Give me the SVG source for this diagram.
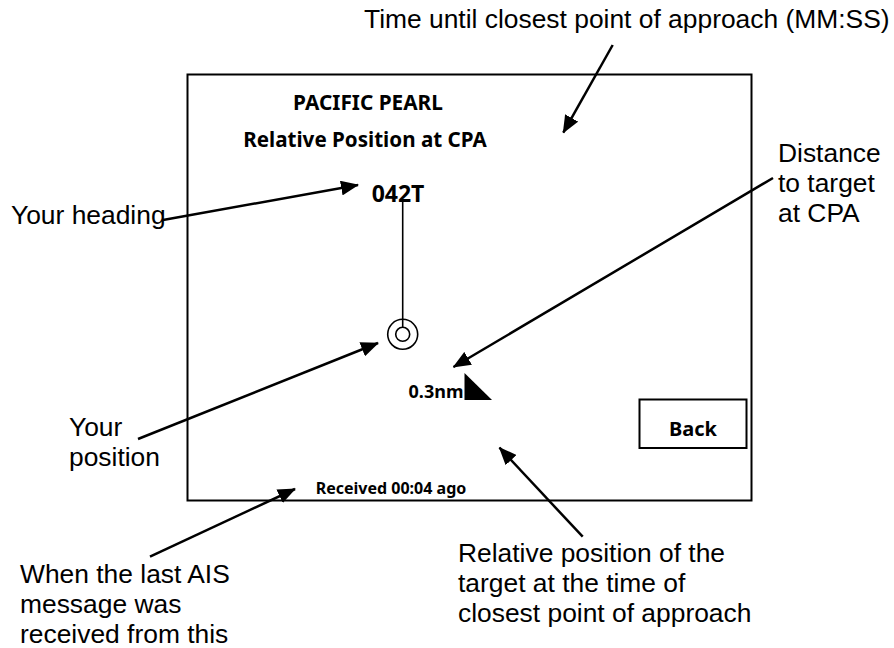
<svg xmlns="http://www.w3.org/2000/svg" width="894" height="648" viewBox="0 0 894 648">
<style>
.lbl{font-family:"Liberation Sans",Arial,sans-serif;font-size:26.4px;fill:#000}
.scr{font-family:"Noto Sans","Open Sans",sans-serif;font-weight:bold;fill:#000}
.arr{stroke:#000;stroke-width:2.5;fill:none;marker-end:url(#ah)}
.thin{stroke:#000;stroke-width:1.6;fill:none}
</style>
<defs>
<marker id="ah" markerUnits="userSpaceOnUse" markerWidth="18" markerHeight="15" refX="17" refY="7.5" orient="auto">
<path d="M0,0 L18,7.5 L0,15 z" fill="#000"/>
</marker>
</defs>
<rect width="894" height="648" fill="#fff"/>
<g id="screen">
<rect x="187.5" y="74.5" width="564" height="426" fill="none" stroke="#000" stroke-width="2"/>
<text class="scr" x="368" y="110" font-size="20.8" text-anchor="middle">PACIFIC PEARL</text>
<text class="scr" x="365" y="147" font-size="20.6" text-anchor="middle">Relative Position at CPA</text>
<text class="scr" x="398" y="202" font-size="23" text-anchor="middle">042T</text>
<text class="scr" x="436" y="398" font-size="18" text-anchor="middle">0.3nm</text>
<text class="scr" x="391" y="494" font-size="16" text-anchor="middle">Received 00:04 ago</text>
</g>
<g id="own-ship">
<line class="thin" x1="402.7" y1="202" x2="402.7" y2="327"/>
<circle class="thin" cx="402.7" cy="334.3" r="15"/>
<circle class="thin" cx="402.7" cy="334.3" r="7"/>
</g>
<g id="target">
<path d="M464.5,373 L464.5,400 L492,400 z" fill="#000"/>
</g>
<g id="back-button">
<rect x="639.5" y="399.5" width="107" height="48.5" fill="none" stroke="#000" stroke-width="2"/>
<text class="scr" x="693" y="436" font-size="20" text-anchor="middle">Back</text>
</g>
<g id="label-time">
<text class="lbl" x="364" y="28">Time until closest point of approach (MM:SS)</text>
</g>
<g id="label-heading">
<text class="lbl" x="11" y="224">Your heading</text>
</g>
<g id="label-position">
<text class="lbl" x="69" y="436">Your</text>
<text class="lbl" x="69" y="466">position</text>
</g>
<g id="label-distance">
<text class="lbl" x="778" y="162">Distance</text>
<text class="lbl" x="778" y="192">to target</text>
<text class="lbl" x="778" y="222">at CPA</text>
</g>
<g id="label-relative">
<text class="lbl" x="458" y="562">Relative position of the</text>
<text class="lbl" x="458" y="592">target at the time of</text>
<text class="lbl" x="458" y="622">closest point of approach</text>
</g>
<g id="label-received">
<text class="lbl" x="20" y="583">When the last AIS</text>
<text class="lbl" x="20" y="613">message was</text>
<text class="lbl" x="20" y="643">received from this</text>
</g>
<g id="connectors">
<line class="arr" x1="612.7" y1="45" x2="563.3" y2="132.7"/>
<line class="arr" x1="163" y1="220" x2="358" y2="185"/>
<line class="arr" x1="138" y1="439" x2="378" y2="343"/>
<line class="arr" x1="773" y1="178" x2="453.5" y2="367"/>
<line class="arr" x1="582.7" y1="536.7" x2="499.5" y2="447.7"/>
<line class="arr" x1="150" y1="556.7" x2="295" y2="489"/>
</g>
</svg>
